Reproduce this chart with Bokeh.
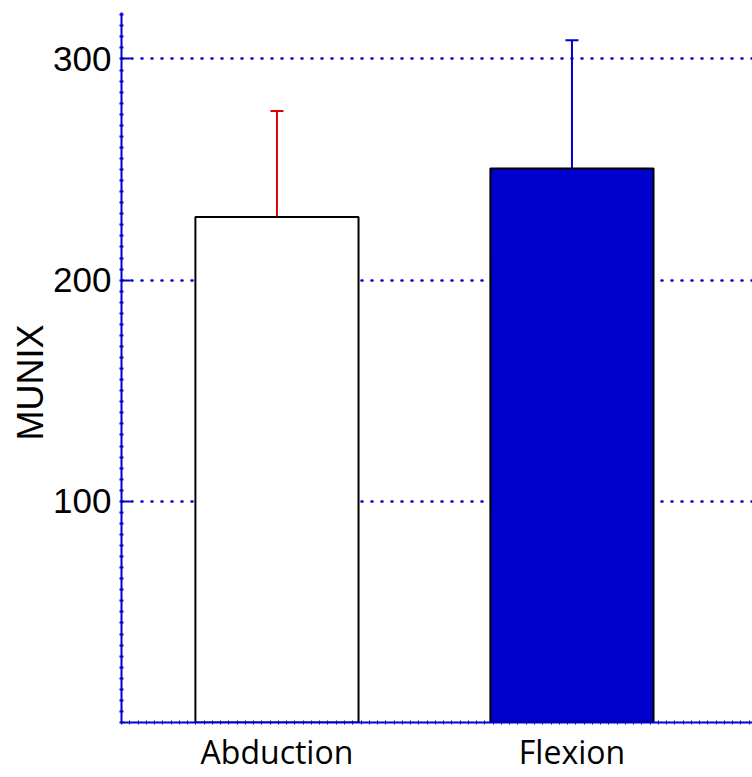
from bokeh.plotting import figure
from bokeh.models import FixedTicker, Whisker, ColumnDataSource, TeeHead, Range1d, Title
from bokeh.embed import file_html
from bokeh.resources import INLINE
import numpy as np

categories = ["Abduction", "Flexion"]
means = [228.5, 250.5]
errors = [48.0, 58.0]
fill_colors = ["white", "#0000CC"]
error_colors = ["#DD0000", "#0000CC"]
y_ticks = [100, 200, 300]
y_title = "MUNIX"

AX = "#0000CC"
xs = [i + 1 for i in range(len(categories))]

p = figure(width=752, height=777, output_backend="svg", toolbar_location=None,
           x_range=Range1d(0.473, 2.612), y_range=Range1d(0, 321),
           min_border_left=121, min_border_right=0, min_border_top=12,
           min_border_bottom=55, background_fill_color="white")
p.outline_line_color = None

src = ColumnDataSource(dict(x=xs, mean=means, fill=fill_colors))
p.vbar(x="x", top="mean", bottom=0, width=0.553, source=src,
       fill_color="fill", line_color="black", line_width=2)

for xi, m, e, c in zip(xs, means, errors, error_colors):
    s = ColumnDataSource(dict(x=[xi], lo=[m], hi=[m + e]))
    w = Whisker(base="x", lower="lo", upper="hi", source=s,
                line_color=c, line_width=2, lower_head=None,
                upper_head=TeeHead(size=13, line_color=c, line_width=2))
    p.add_layout(w)

# grid
p.xgrid.visible = False
p.ygrid.grid_line_color = AX
p.ygrid.grid_line_width = 2.5
p.ygrid.grid_line_dash = "1 9"
p.ygrid.grid_line_cap = "round"

# y axis
p.yaxis.ticker = FixedTicker(ticks=y_ticks, minor_ticks=list(range(0, 325, 5)))
p.yaxis.major_label_text_font = "Liberation Sans"
p.yaxis.major_label_text_font_size = "35px"
p.yaxis.major_label_text_color = "black"
p.yaxis.major_label_standoff = 8
p.yaxis.axis_line_color = AX
p.yaxis.axis_line_width = 2
p.yaxis.major_tick_line_color = AX
p.yaxis.major_tick_line_width = 2
p.yaxis.major_tick_in = 9
p.yaxis.major_tick_out = 0
p.yaxis.minor_tick_line_color = AX
p.yaxis.minor_tick_line_width = 2
p.yaxis.minor_tick_in = 2
p.yaxis.minor_tick_out = 2

# y title, in the left panel, a little below the middle as in the original
p.add_layout(Title(text=y_title, align="left", offset=282,
                   text_font="Liberation Sans", text_font_size="36px",
                   text_font_style="normal", text_color="black",
                   standoff=0), "left")

# x axis
p.xaxis.ticker = FixedTicker(ticks=xs, minor_ticks=np.arange(0.473, 2.612, 0.028).tolist())
p.xaxis.major_label_overrides = {x: c for x, c in zip(xs, categories)}
p.xaxis.major_label_text_font = "Open Sans"
p.xaxis.major_label_text_font_size = "32px"
p.xaxis.major_label_text_color = "black"
p.xaxis.major_label_standoff = 5
p.xaxis.axis_line_color = AX
p.xaxis.axis_line_width = 2
p.xaxis.major_tick_in = 0
p.xaxis.major_tick_out = 0
p.xaxis.minor_tick_line_color = AX
p.xaxis.minor_tick_line_width = 1
p.xaxis.minor_tick_in = 2
p.xaxis.minor_tick_out = 2

open("out.html", "w").write(file_html(p, INLINE))
